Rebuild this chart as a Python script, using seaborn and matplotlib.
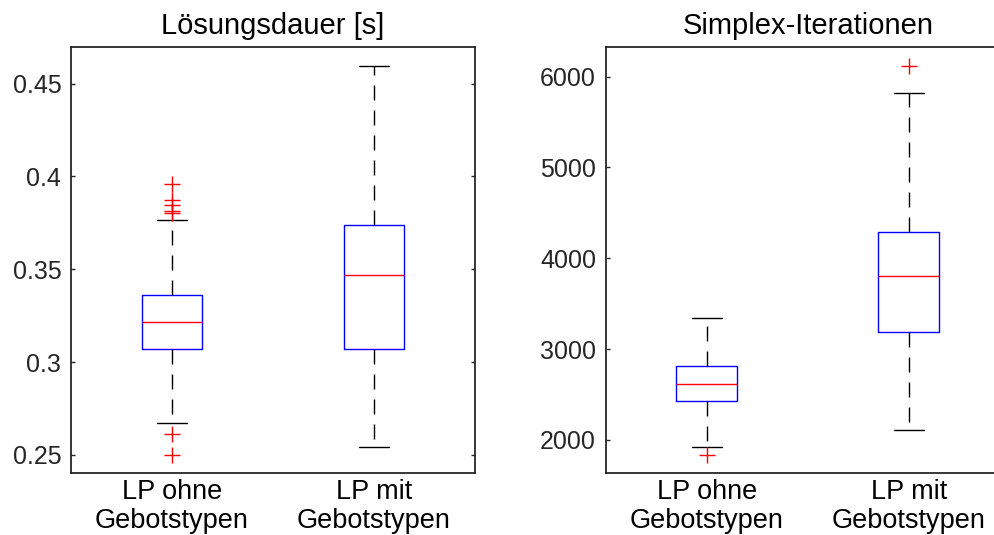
import matplotlib
matplotlib.use("Agg")
import matplotlib.pyplot as plt
import seaborn as sns
import pandas as pd

# ---- data ----
categories = ["LP ohne\nGebotstypen", "LP mit\nGebotstypen"]

dauer_q1 = [0.3072, 0.3070]
dauer_median = [0.3216, 0.3469]
dauer_q3 = [0.3362, 0.3737]
dauer_whisker_lo = [0.2672, 0.2543]
dauer_whisker_hi = [0.3767, 0.4595]
dauer_outliers_lo = [[0.2500, 0.2613], []]
dauer_outliers_hi = [[0.3805, 0.3816, 0.3848, 0.3873, 0.3960], []]
dauer_ticks = [0.25, 0.30, 0.35, 0.40, 0.45]
dauer_ticklabels = ["0.25", "0.3", "0.35", "0.4", "0.45"]

iter_q1 = [2432, 3185]
iter_median = [2616, 3809]
iter_q3 = [2811, 4290]
iter_whisker_lo = [1925, 2106]
iter_whisker_hi = [3346, 5824]
iter_outliers_lo = [[1834], []]
iter_outliers_hi = [[], [6114]]
iter_ticks = [2000, 3000, 4000, 5000, 6000]
iter_ticklabels = ["2000", "3000", "4000", "5000", "6000"]

titles = ["Lösungsdauer [s]", "Simplex-Iterationen"]


def values_from_summary(lo_out, wlo, q1, med, q3, whi, hi_out):
    """Sample whose quartiles / whiskers / outliers equal the read values."""
    lower = sorted(lo_out) + [wlo]
    upper = [whi] + sorted(hi_out)
    k = max(len(lower), len(upper))
    lower = lower + [q1] * (k - len(lower))
    upper = [q3] * (k - len(upper)) + upper
    return lower + [q1] * k + [med] + [q3] * k + upper


def build_frame(q1, med, q3, wlo, whi, lo_out, hi_out):
    rows = []
    for i, cat in enumerate(categories):
        vals = values_from_summary(lo_out[i], wlo[i], q1[i], med[i], q3[i], whi[i], hi_out[i])
        rows += [(cat, v) for v in vals]
    return pd.DataFrame(rows, columns=["Variante", "Wert"])


df_dauer = build_frame(dauer_q1, dauer_median, dauer_q3, dauer_whisker_lo,
                       dauer_whisker_hi, dauer_outliers_lo, dauer_outliers_hi)
df_iter = build_frame(iter_q1, iter_median, iter_q3, iter_whisker_lo,
                      iter_whisker_hi, iter_outliers_lo, iter_outliers_hi)

# ---- style ----
sns.set_style("white")
plt.rcParams["font.family"] = ["Liberation Sans", "DejaVu Sans"]
plt.rcParams["axes.edgecolor"] = "#262626"
plt.rcParams["axes.linewidth"] = 1.3

W, H = 995, 535
fig = plt.figure(figsize=(W / 100, H / 100), dpi=100)
ax1 = fig.add_axes([71 / W, (H - 473.3) / H, 404 / W, 426.6 / H])
ax2 = fig.add_axes([605.7 / W, (H - 473.3) / H, 404 / W, 426.6 / H])

box_kws = dict(
    width=0.3,
    fill=False,
    whis=1.5,
    boxprops=dict(color="#0000ff", linewidth=1.0),
    medianprops=dict(color="#ff0000", linewidth=1.0),
    whiskerprops=dict(color="black", linewidth=1.0, linestyle=(0, (10.8, 7.2))),
    capprops=dict(color="black", linewidth=1.0),
    flierprops=dict(marker="+", markeredgecolor="#ff0000", markerfacecolor="none",
                    markersize=11.5, markeredgewidth=1.0, linestyle="none"),
)

sns.boxplot(data=df_dauer, x="Variante", y="Wert", ax=ax1, **box_kws)
sns.boxplot(data=df_iter, x="Variante", y="Wert", ax=ax2, **box_kws)

for ax, title, ylim, ticks, tlabels in [
    (ax1, titles[0], (0.2401, 0.4699), dauer_ticks, dauer_ticklabels),
    (ax2, titles[1], (1633, 6330), iter_ticks, iter_ticklabels),
]:
    ax.set_xlim(-0.5, 1.5)
    ax.set_ylim(*ylim)
    ax.set_yticks(ticks)
    ax.set_yticklabels(tlabels)
    ax.set_xlabel("")
    ax.set_ylabel("")
    ax.set_title(title, fontsize=21, color="black", pad=9)
    for s in ax.spines.values():
        s.set_visible(True)
        s.set_color("#262626")
        s.set_linewidth(1.3)
    ax.tick_params(axis="y", direction="in", left=True, right=True, labelright=False,
                   length=3, width=1.0, color="#262626", labelsize=18,
                   labelcolor="#262626", pad=7)
    ax.tick_params(axis="x", length=0, labelsize=19.5, labelcolor="black", pad=4)
    for lab in ax.get_xticklabels():
        lab.set_linespacing(1.15)

fig.savefig("out.png", dpi=100)
